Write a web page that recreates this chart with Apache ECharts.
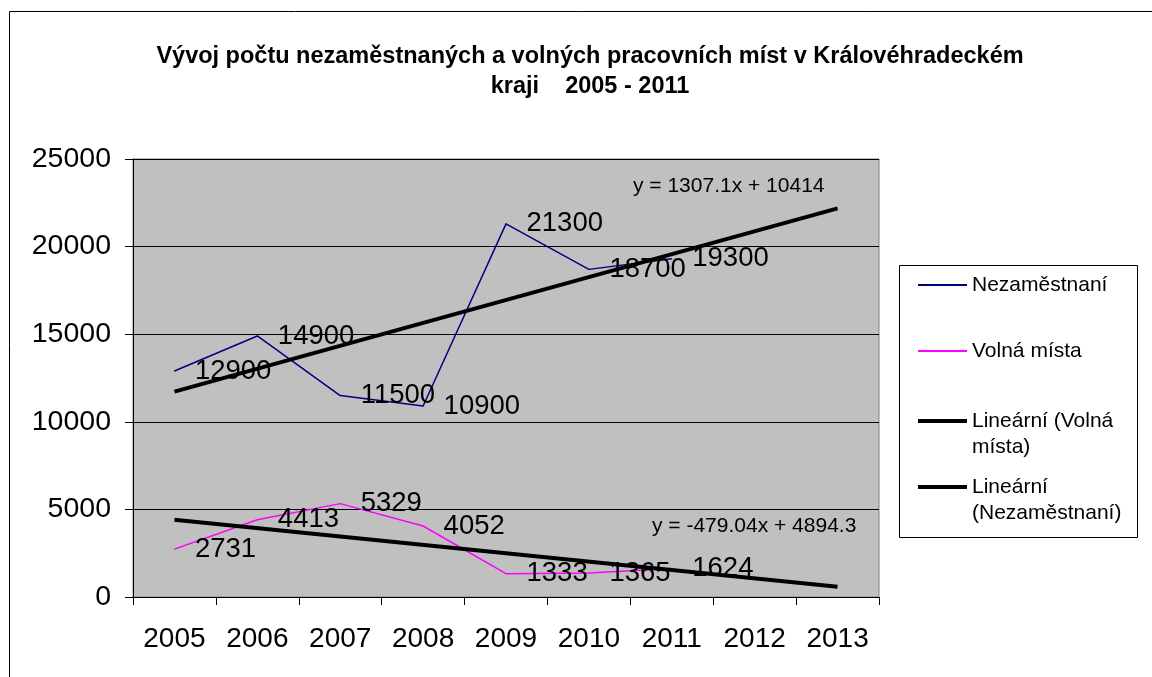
<!DOCTYPE html>
<html>
<head>
<meta charset="utf-8">
<script src="https://cdn.jsdelivr.net/npm/echarts@6/dist/echarts.min.js"></script>
<style>
html,body{margin:0;padding:0;background:#fff;}
#chart{width:1152px;height:677px;}
</style>
</head>
<body>
<div id="chart"></div>
<script>
const years = ['2005','2006','2007','2008','2009','2010','2011','2012','2013'];
const nezamestnani = [12900, 14900, 11500, 10900, 21300, 18700, 19300];
const volnaMista = [2731, 4413, 5329, 4052, 1333, 1365, 1624];
// trend line end points [category index, value]
const trendVolna = [[0, 4415], [8, 583]];
const trendNezam = [[0, 11721], [8, 22178]];
const eqNezam = 'y = 1307.1x + 10414';
const eqVolna = 'y = -479.04x + 4894.3';
const yTicks = [0, 5000, 10000, 15000, 20000, 25000];

const FONT = 'Arial, "Liberation Sans", sans-serif';
const chart = echarts.init(document.getElementById('chart'), null, {renderer: 'canvas'});

function legendItem(name, text, top, thick) {
  return {
    data: [{name: name, icon: 'rect'}], left: 918, top: top, orient: 'vertical', padding: 0,
    itemWidth: 49, itemHeight: thick, selectedMode: false,
    formatter: () => text,
    textStyle: {fontFamily: FONT, fontSize: 21, lineHeight: 26, color: '#000'}
  };
}

const option = {
  backgroundColor: '#fff',
  animation: false,
  title: [
    {
      text: 'Vývoj počtu nezaměstnaných a volných pracovních míst v Královéhradeckém\nkraji    2005 - 2011',
      left: 590, top: 42, textAlign: 'center', padding: 0,
      textStyle: {fontFamily: FONT, fontSize: 23.5, fontWeight: 'bold', lineHeight: 30, color: '#000'}
    },
    {
      text: eqNezam, left: 633, top: 176, padding: 0,
      textStyle: {fontFamily: FONT, fontSize: 21, fontWeight: 'normal', color: '#000'}
    },
    {
      text: eqVolna, left: 652, top: 516, padding: 0,
      textStyle: {fontFamily: FONT, fontSize: 21, fontWeight: 'normal', color: '#000'}
    }
  ],
  legend: [
    legendItem('Nezaměstnaní', 'Nezaměstnaní', 272, 2),
    legendItem('Volná místa', 'Volná místa', 338, 2),
    legendItem('Lineární (Volná místa)', '\nLineární (Volná\nmísta)', 382, 4),
    legendItem('Lineární (Nezaměstnaní)', '\nLineární\n(Nezaměstnaní)', 448, 4)
  ],
  graphic: [
    {type: 'rect', shape: {x: 9.5, y: 11.5, width: 1200, height: 700}, style: {fill: 'none', stroke: '#000', lineWidth: 1}, silent: true, z: -10},
    {type: 'rect', shape: {x: 899.5, y: 265.5, width: 238, height: 272}, style: {fill: 'none', stroke: '#000', lineWidth: 1}, silent: true}
  ],
  grid: {
    left: 133, right: 273, top: 159, bottom: 80,
    show: true, backgroundColor: '#c0c0c0', borderColor: '#808080', borderWidth: 1
  },
  xAxis: {
    type: 'category', data: years, boundaryGap: true,
    axisLine: {lineStyle: {color: '#000', width: 1}},
    axisTick: {show: true, length: 8, lineStyle: {color: '#000'}},
    axisLabel: {fontFamily: FONT, fontSize: 28, color: '#000', margin: 28},
    splitLine: {show: false}
  },
  yAxis: {
    type: 'value', min: 0, max: 25000, interval: 5000,
    axisLine: {show: true, lineStyle: {color: '#000', width: 1}},
    axisTick: {show: true, length: 8, lineStyle: {color: '#000'}},
    axisLabel: {fontFamily: FONT, fontSize: 28.5, color: '#000', margin: 22,
      formatter: v => yTicks.includes(v) ? String(v) : ''},
    splitLine: {show: true, lineStyle: {color: '#000', width: 1}}
  },
  series: [
    {
      name: 'Nezaměstnaní', type: 'line', data: nezamestnani,
      symbol: 'circle', symbolSize: 1, showSymbol: true,
      lineStyle: {color: '#000080', width: 1.5}, itemStyle: {color: '#000080'},
      label: {show: true, position: 'right', distance: 20, fontFamily: FONT, fontSize: 27.5, color: '#000'},
      z: 3
    },
    {
      name: 'Volná místa', type: 'line', data: volnaMista,
      symbol: 'circle', symbolSize: 1, showSymbol: true,
      lineStyle: {color: '#ff00ff', width: 1.5}, itemStyle: {color: '#ff00ff'},
      label: {show: true, position: 'right', distance: 20, fontFamily: FONT, fontSize: 27.5, color: '#000'},
      z: 3
    },
    {
      name: 'Lineární (Volná místa)', type: 'line', data: trendVolna, symbol: 'none',
      lineStyle: {color: '#000', width: 4}, itemStyle: {color: '#000'}, z: 4
    },
    {
      name: 'Lineární (Nezaměstnaní)', type: 'line', data: trendNezam, symbol: 'none',
      lineStyle: {color: '#000', width: 4}, itemStyle: {color: '#000'}, z: 4
    }
  ]
};
chart.setOption(option);
</script>
</body>
</html>
